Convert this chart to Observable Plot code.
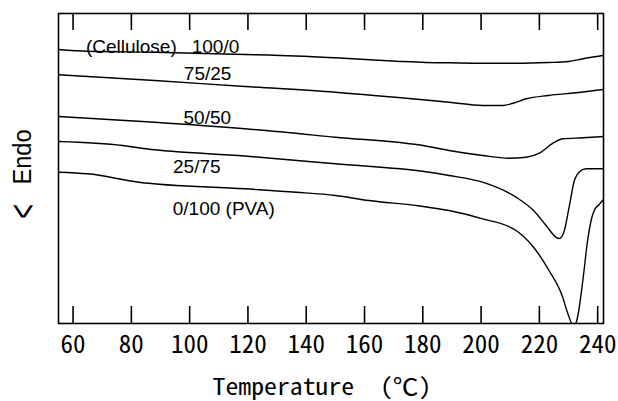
<!DOCTYPE html>
<html><head><meta charset="utf-8">
<script src="https://cdn.jsdelivr.net/npm/d3@7"></script>
<script src="https://cdn.jsdelivr.net/npm/@observablehq/plot@0.6"></script>
<style>
html,body{margin:0;padding:0;background:#fff;}
#chart svg{display:block;}
</style></head><body><div id="chart"></div>
<script>
// DSC curves: temperature (°C) vs endothermic heat flow (arbitrary units, larger = up)
const seriesNames = ["100/0", "75/25", "50/50", "25/75", "0/100"];

const temp_100_0 = [55, 65, 88, 119, 127, 150, 171, 181, 189, 200.5, 212, 223, 230, 235, 242];
const endo_100_0 = [274, 272.3, 271.3, 269, 268.5, 265.7, 262.3, 261, 260.7, 260.3, 260.3, 261, 262, 264.7, 268];

const temp_75_25 = [55, 88, 119, 150, 181, 189, 200.5, 207.5, 211, 215.5, 223, 232.5, 242];
const endo_75_25 = [248.7, 243, 237, 231.3, 223.5, 221.3, 218, 218, 220.3, 224.7, 228, 230.7, 234];

const temp_50_50 = [55, 88, 119, 150, 181, 189, 200.5, 209.5, 215.5, 220, 224.7, 228, 235, 242];
const endo_50_50 = [207, 201.3, 194.7, 186.3, 177.5, 173, 168, 165.3, 166.3, 170.3, 180.3, 184.7, 185.7, 187];

const temp_25_75 = [55, 77, 85, 119, 150, 181, 189, 200.5, 212, 218, 222.3, 225.7, 226.8, 228.4, 230.2, 232, 233.6, 236, 242];
const endo_25_75 = [182, 178, 174.7, 167.5, 159.7, 151.7, 148, 141.3, 126.3, 113, 98, 86.3, 85, 91.3, 116.3, 143, 151.3, 154.7, 154.7];

const temp_0_100 = [55, 65, 82.5, 119, 136.5, 150, 161.5, 179, 189, 200.5, 212, 218, 223.3, 228, 229.6, 231.9, 233, 235, 236.5, 238, 239, 240.5, 242];
const endo_0_100 = [151.3, 149.7, 141.3, 134.7, 131.3, 128, 123, 117.5, 113, 104.7, 93, 76.3, 53, 26.3, 11.3, -3, 5, 45, 82, 106, 114, 119, 124];

const xTicks = [60, 80, 100, 120, 140, 160, 180, 200, 220, 240];

const labelTexts = ["(Cellulose)", "100/0", "75/25", "50/50", "25/75", "0/100 (PVA)"];
const labelTemps = [64.4, 100.7, 98, 97.9, 94.3, 94.2];
const labelEndo = [276.7, 276.7, 249.3, 206, 156.3, 114.2];

const xTitle = "Temperature\u3000(℃)";
const yArrow = "<";
const yTitle = "Endo";

// build tables
const temps = [temp_100_0, temp_75_25, temp_50_50, temp_25_75, temp_0_100];
const endos = [endo_100_0, endo_75_25, endo_50_50, endo_25_75, endo_0_100];
const rows = [];
seriesNames.forEach((s, k) => temps[k].forEach((t, i) => rows.push({series: s, t, v: endos[k][i]})));
const labels = labelTexts.map((text, i) => ({text, t: labelTemps[i], v: labelEndo[i]}));

const monoFont = "'Noto Sans Mono CJK JP', 'Noto Sans CJK JP', 'DejaVu Sans Mono', monospace";
const sansFont = "'Liberation Sans', Arial, sans-serif";

const chart = Plot.plot({
  width: 618, height: 401,
  marginLeft: 58, marginRight: 15, marginTop: 13, marginBottom: 78,
  x: {domain: [55, 242]},
  y: {domain: [0, 310], axis: null},
  style: {background: "white", color: "black", overflow: "visible"},
  marks: [
    Plot.line(rows, {x: "t", y: "v", z: "series", stroke: "black", strokeWidth: 1.4, curve: "monotone-x", clip: true}),
    Plot.text(labels, {x: "t", y: "v", text: "text", textAnchor: "start", fontSize: 19, fontFamily: sansFont, fill: "black"}),
    Plot.axisX(xTicks, {anchor: "top", tickSize: -16, tickFormat: () => "", label: null, strokeWidth: 1.6}),
    Plot.axisX(xTicks, {anchor: "bottom", tickSize: -17, tickFormat: () => "", label: null, strokeWidth: 1.6}),
    Plot.axisX(xTicks, {anchor: "bottom", tickSize: 0, tickPadding: 12, label: null, fontSize: 25, fontFamily: monoFont, fill: "black"}),
    Plot.frame({stroke: "black", strokeWidth: 1.6}),
    Plot.text([xTitle], {frameAnchor: "bottom", textAnchor: "middle", lineAnchor: "middle", dx: -9, dy: 64.5, fontSize: 23, fontFamily: monoFont, fill: "black"}),
    Plot.text([yTitle], {frameAnchor: "left", textAnchor: "middle", lineAnchor: "middle", rotate: -90, dx: -36, dy: -11.5, fontSize: 26, fontFamily: sansFont, fill: "black"}),
    Plot.text([yArrow], {frameAnchor: "left", textAnchor: "middle", lineAnchor: "middle", rotate: -90, dx: -35, dy: 43, fontSize: 24, fontFamily: sansFont, fill: "black"})
  ]
});
const svgTexts = d3.select(chart).selectAll("text");
const appendTransform = (sel, extra) => sel.attr("transform", function() { return (this.getAttribute("transform") || "") + " " + extra; });
appendTransform(svgTexts.filter(function() { return this.textContent === yArrow; }), "scale(1.05,1.58)");
appendTransform(svgTexts.filter(function() { return this.textContent === yTitle; }), "scale(0.91,1)");
appendTransform(svgTexts.filter(function() { return this.textContent === xTitle; }), "scale(1.12,1)");
document.getElementById("chart").appendChild(chart);
</script>
</body></html>
